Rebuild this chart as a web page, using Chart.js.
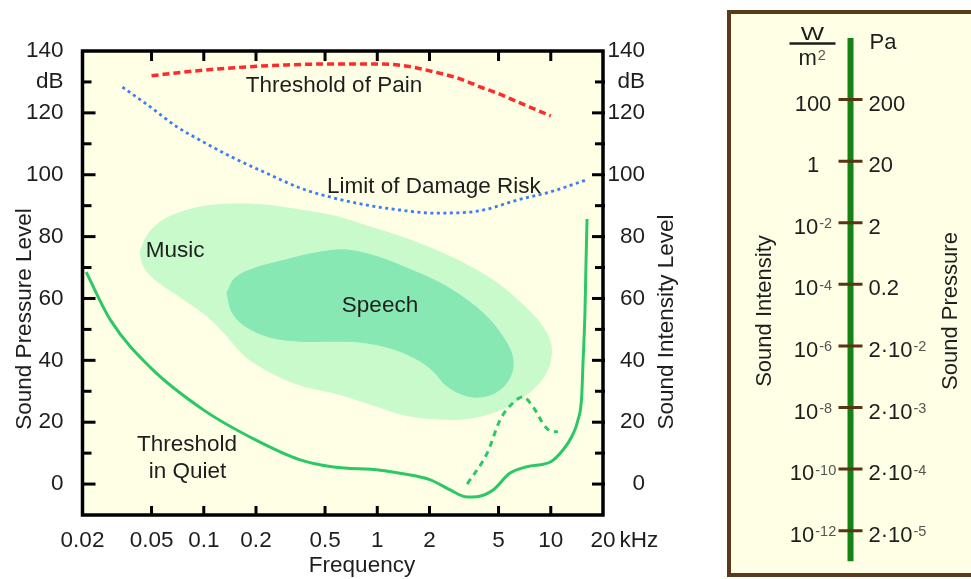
<!DOCTYPE html>
<html>
<head>
<meta charset="utf-8">
<script src="https://cdn.jsdelivr.net/npm/chart.js@4.4.1/dist/chart.umd.min.js"></script>
<style>
  html, body { margin: 0; padding: 0; background: #fff; overflow: hidden; }
  #wrap { position: relative; width: 971px; height: 579px; overflow: hidden; }
  #main { position: absolute; left: 0; top: 0; }
  #box { position: absolute; left: 727px; top: 10px; width: 270px; height: 567px; box-sizing: border-box;
         border: 4px solid #5a3a1a; background: #ffffe6; }
  #panel { position: absolute; left: 730px; top: 0; }
</style>
</head>
<body>
<div id="wrap">
  <canvas id="main" width="700" height="579"></canvas>
  <div id="box"></div>
  <canvas id="panel" width="241" height="579"></canvas>
</div>
<script>
// frequency in kHz, levels in dB
const freqTicks = [0.02, 0.05, 0.1, 0.2, 0.5, 1, 2, 5, 10, 20];

const painFreq = [0.05, 0.08, 0.15, 0.3, 0.55, 1, 1.4, 2, 3, 4, 5, 6.4, 8, 10];
const painDb = [132, 133.3, 134.6, 135.5, 135.8, 135.8, 135.3, 133.6, 131, 128.2, 126.2, 123.6, 121.3, 119];

const damageFreq = [0.034, 0.049, 0.07, 0.095, 0.15, 0.23, 0.36, 0.56, 0.87, 1.35, 2.1, 3, 4.1, 6.4, 10, 16];
const damageDb = [128.3, 122, 115.5, 111.2, 105.3, 100.5, 95.7, 92.5, 90.2, 88.6, 87.6, 87.7, 88.6, 91.8, 94.5, 98.3];

const quietFreq = [0.021, 0.029, 0.049, 0.1, 0.2, 0.36, 0.56, 1.04, 1.35, 2.04, 2.63, 3.3, 3.75, 4.65, 5.8, 7.3, 10,
  11.76, 13.2, 14.35, 15.07, 15.34, 15.74, 15.96, 16.18];
const quietDb = [68.5, 53, 37.8, 23.9, 14.2, 7.8, 5.5, 4.5, 3.5, 1.3, -1.9, -4.2, -4.1, -1.9, 3.5, 5.6, 7.2,
  11, 15.3, 20.7, 28.2, 39.1, 55.3, 71.5, 85.7];

const lossFreq = [3.3, 4.3, 5.1, 6.05, 6.9, 7.9, 9.3, 10.3, 11];
const lossDb = [0, 10, 20.7, 26.2, 28.2, 25, 18.5, 16.9, 16.9];

const musicFreq = [0.0429, 0.0477, 0.0598, 0.089, 0.1416, 0.2253, 0.3585, 0.5705, 0.908, 1.445, 2.3, 3.56, 5.1, 6.92,
  8.78, 10.03, 9.77, 8.44, 6.65, 4.9, 3.42, 2.3, 1.445, 0.908, 0.5705, 0.3585, 0.2408, 0.1728, 0.1342, 0.1045,
  0.073, 0.0537, 0.0452];
const musicDb = [75, 80.8, 85.7, 89.2, 90.5, 90.2, 88.6, 86.6, 83.1, 79.5, 75, 69.8, 64.3, 57.9,
  51.7, 44.9, 38.2, 32.3, 27.5, 23.6, 21.3, 21, 22.3, 25.9, 29.4, 32, 36.2, 41.4, 48.2, 54.3,
  60.5, 65.6, 70.2];

const speechFreq = [0.1361, 0.1514, 0.1973, 0.2938, 0.4376, 0.6516, 0.97, 1.484, 2.3, 3.29, 4.35, 5.31, 5.98,
  5.98, 5.31, 4.29, 3.29, 2.52, 2.07, 1.65, 1.184, 0.795, 0.534, 0.3585, 0.2408, 0.1728, 0.1455];
const speechDb = [61.8, 66.6, 69.8, 72.4, 74.7, 75.7, 73.7, 69.8, 65, 59.5, 53.7, 47.5, 41.7,
  36.2, 31.4, 28.5, 28.5, 31.7, 36.9, 40.7, 44, 45.9, 46.2, 46.2, 47.5, 51.1, 55.6];

// text inside the plot, anchored in data units (kHz, dB)
const notes = [
  { text: 'Threshold of Pain', f: 0.563, db: 126.7 },
  { text: 'Limit of Damage Risk', f: 2.12, db: 94.1 },
  { text: 'Music', f: 0.0683, db: 73.4 },
  { text: 'Speech', f: 1.037, db: 55.6 },
  { text: 'Threshold', f: 0.080, db: 10.7 },
  { text: 'in Quiet', f: 0.0805, db: 1.9 },
];

// side scale
const panelLevels = [140, 120, 100, 80, 60, 40, 20, 0];
const intensityLabels = ['100', '1', '10^-2', '10^-4', '10^-6', '10^-8', '10^-10', '10^-12'];
const pressureLabels = ['200', '20', '2', '0.2', '2·10^-2', '2·10^-3', '2·10^-4', '2·10^-5'];
const barRange = [160, -10];

const FONT = "'Liberation Sans', Arial, sans-serif";
const FS = 22.5;
const CREAM = '#ffffe6';
const INK = '#1e1e1e';

Chart.defaults.font.family = FONT;
Chart.defaults.font.size = FS;
Chart.defaults.color = INK;

const pts = (xs, ys) => xs.map((x, i) => ({ x, y: ys[i] }));
const closed = (xs, ys) => pts([...xs, xs[0]], [...ys, ys[0]]);
const dbLabel = v => (v === 130 ? 'dB' : (v >= 0 && v % 20 === 0 ? String(v) : ''));

function line(ctx, x1, y1, x2, y2) {
  ctx.beginPath();
  ctx.moveTo(x1, y1);
  ctx.lineTo(x2, y2);
  ctx.stroke();
}

function vText(ctx, text, x, y) {
  ctx.save();
  ctx.translate(x, y);
  ctx.rotate(-Math.PI / 2);
  ctx.textAlign = 'center';
  ctx.textBaseline = 'alphabetic';
  ctx.fillText(text, 0, 0);
  ctx.restore();
}

const mainDecor = {
  id: 'mainDecor',
  beforeDraw(chart) {
    const { ctx, chartArea: a } = chart;
    ctx.save();
    ctx.fillStyle = CREAM;
    ctx.fillRect(a.left, a.top, a.right - a.left, a.bottom - a.top);
    ctx.restore();
  },
  afterDraw(chart) {
    const { ctx, chartArea: a, scales } = chart;
    const x = scales.x, y = scales.y;
    ctx.save();
    ctx.fillStyle = INK;
    ctx.font = `${FS}px ${FONT}`;
    ctx.textAlign = 'center';
    ctx.textBaseline = 'alphabetic';
    notes.forEach(n => ctx.fillText(n.text, x.getPixelForValue(n.f), y.getPixelForValue(n.db)));

    // inward ticks
    ctx.strokeStyle = '#000';
    ctx.lineWidth = 3;
    y.ticks.forEach(t => {
      if (t.value <= -10 || t.value >= 140) return;
      const py = y.getPixelForValue(t.value);
      const major = t.value % 20 === 0;
      line(ctx, a.left, py, a.left + (major ? 13 : 9), py);
      line(ctx, a.right - (major ? 11 : 8), py, a.right + 2, py);
    });
    freqTicks.slice(1, -1).forEach(v => {
      const px = x.getPixelForValue(v);
      line(ctx, px, a.bottom, px, a.bottom - 9);
      line(ctx, px, a.top, px, a.top + 10);
    });
    ctx.lineWidth = 3.5;
    ctx.strokeRect(a.left, a.top, a.right - a.left, a.bottom - a.top);

    // axis titles
    ctx.fillStyle = INK;
    vText(ctx, 'Sound Pressure Level', 31, 319);
    vText(ctx, 'Sound Intensity Level', 673, 322);
    ctx.textAlign = 'center';
    ctx.fillText('Frequency', 362, 572);

    // unit after the last frequency label
    const px20 = x.getPixelForValue(20);
    const w20 = ctx.measureText('20').width;
    ctx.textAlign = 'left';
    ctx.textBaseline = 'middle';
    ctx.fillText('kHz', px20 + w20 / 2 + 4, x.top + 12 + FS * 1.2 / 2);
    ctx.restore();
  }
};

new Chart(document.getElementById('main'), {
  type: 'line',
  data: {
    datasets: [
      { label: 'Threshold of Pain', data: pts(painFreq, painDb), borderColor: '#ff2a2a', borderWidth: 3.5,
        borderDash: [7, 4], cubicInterpolationMode: 'monotone', order: 0 },
      { label: 'Limit of Damage Risk', data: pts(damageFreq, damageDb), borderColor: '#3a7ef5', borderWidth: 2.8,
        borderDash: [3, 3.5], cubicInterpolationMode: 'monotone', order: 0 },
      { label: 'Threshold in Quiet', data: pts(quietFreq, quietDb), borderColor: '#2bc866', borderWidth: 3,
        cubicInterpolationMode: 'monotone', order: 0 },
      { label: 'Hearing loss', data: pts(lossFreq, lossDb), borderColor: '#2bc866', borderWidth: 3,
        borderDash: [6, 5], cubicInterpolationMode: 'monotone', order: 0 },
      { label: 'Speech', data: closed(speechFreq, speechDb), backgroundColor: '#87e8b4', borderColor: '#87e8b4',
        borderWidth: 1, fill: 'shape', tension: 0.35, order: 1 },
      { label: 'Music', data: closed(musicFreq, musicDb), backgroundColor: '#c8facc', borderColor: '#c8facc',
        borderWidth: 1, fill: 'shape', tension: 0.35, order: 2 },
    ]
  },
  options: {
    responsive: false,
    devicePixelRatio: 1,
    animation: false,
    layout: { padding: { top: 51, right: 55, left: 0, bottom: 0 } },
    elements: { point: { radius: 0 } },
    plugins: { legend: { display: false }, tooltip: { enabled: false } },
    scales: {
      x: {
        type: 'logarithmic', min: 0.02, max: 20,
        afterBuildTicks: s => { s.ticks = freqTicks.map(v => ({ value: v })); },
        afterFit: s => { s.height = 64; },
        grid: { display: false, drawTicks: false },
        border: { display: false },
        ticks: { callback: v => String(v), autoSkip: false, maxRotation: 0, padding: 12 }
      },
      y: {
        position: 'left', min: -10, max: 140,
        afterFit: s => { s.width = 82.5; },
        grid: { display: false, drawTicks: false },
        border: { display: false },
        ticks: { stepSize: 10, callback: dbLabel, padding: 19, autoSkip: false }
      },
      y2: {
        position: 'right', min: -10, max: 140,
        afterFit: s => { s.width = 42; },
        grid: { display: false, drawTicks: false },
        border: { display: false },
        ticks: { stepSize: 10, callback: dbLabel, crossAlign: 'far', autoSkip: false }
      }
    }
  },
  plugins: [mainDecor]
});

function drawPower(ctx, label, x, base, align) {
  const [main, exp] = label.split('^');
  ctx.font = `22px ${FONT}`;
  const mw = ctx.measureText(main).width;
  ctx.font = `14.5px ${FONT}`;
  const ew = exp ? ctx.measureText(exp).width + 1 : 0;
  const sx = align === 'center' ? x - (mw + ew) / 2 : x;
  ctx.textAlign = 'left';
  ctx.textBaseline = 'alphabetic';
  ctx.font = `22px ${FONT}`;
  ctx.fillStyle = INK;
  ctx.fillText(main, sx, base);
  if (exp) {
    ctx.font = `14.5px ${FONT}`;
    ctx.fillStyle = '#555';
    ctx.fillText(exp, sx + mw + 1, base - 5.5);
  }
}

const panelDecor = {
  id: 'panelDecor',
  afterDraw(chart) {
    const { ctx, scales: { x, y } } = chart;
    const xc = x.getPixelForValue(0);
    ctx.save();
    panelLevels.forEach((lv, i) => {
      const base = y.getPixelForValue(lv) + 11;
      drawPower(ctx, intensityLabels[i], xc - 37.5, base, 'center');
      drawPower(ctx, pressureLabels[i], xc + 18, base, 'left');
    });

    // units W/m² and Pa
    const top = y.top;
    ctx.fillStyle = INK;
    ctx.textAlign = 'center';
    ctx.textBaseline = 'alphabetic';
    ctx.save();
    ctx.translate(xc - 38, top + 1.5);
    ctx.scale(1.3, 1);
    ctx.font = `19px ${FONT}`;
    ctx.fillText('W', 0, 0);
    ctx.restore();
    ctx.strokeStyle = INK;
    ctx.lineWidth = 2.5;
    line(ctx, xc - 61, top + 5.5, xc - 15, top + 5.5);
    drawPower(ctx, 'm^2', xc - 52, top + 27, 'left');
    ctx.font = `22px ${FONT}`;
    ctx.fillStyle = INK;
    ctx.textAlign = 'left';
    ctx.fillText('Pa', xc + 19, top + 11);

    vText(ctx, 'Sound Intensity', 41, 311);
    vText(ctx, 'Sound Pressure', 227, 311);
    ctx.restore();
  }
};

new Chart(document.getElementById('panel'), {
  type: 'line',
  data: {
    datasets: [
      { label: 'marks', data: panelLevels.map(v => ({ x: 0, y: v })), showLine: false, pointStyle: 'line',
        pointRadius: 12, pointBorderWidth: 3, pointBorderColor: '#5a3214', order: 0 },
      { label: 'scale', data: barRange.map(v => ({ x: 0, y: v })), borderColor: '#148214', borderWidth: 6,
        pointRadius: 0, order: 1 },
    ]
  },
  options: {
    responsive: false,
    devicePixelRatio: 1,
    animation: false,
    layout: { padding: { top: 38, bottom: 17.5, left: 0, right: 15 } },
    plugins: { legend: { display: false }, tooltip: { enabled: false } },
    scales: {
      x: { type: 'linear', min: -1, max: 1, display: false },
      y: { min: -10, max: 160, display: false }
    }
  },
  plugins: [panelDecor]
});
</script>
</body>
</html>
